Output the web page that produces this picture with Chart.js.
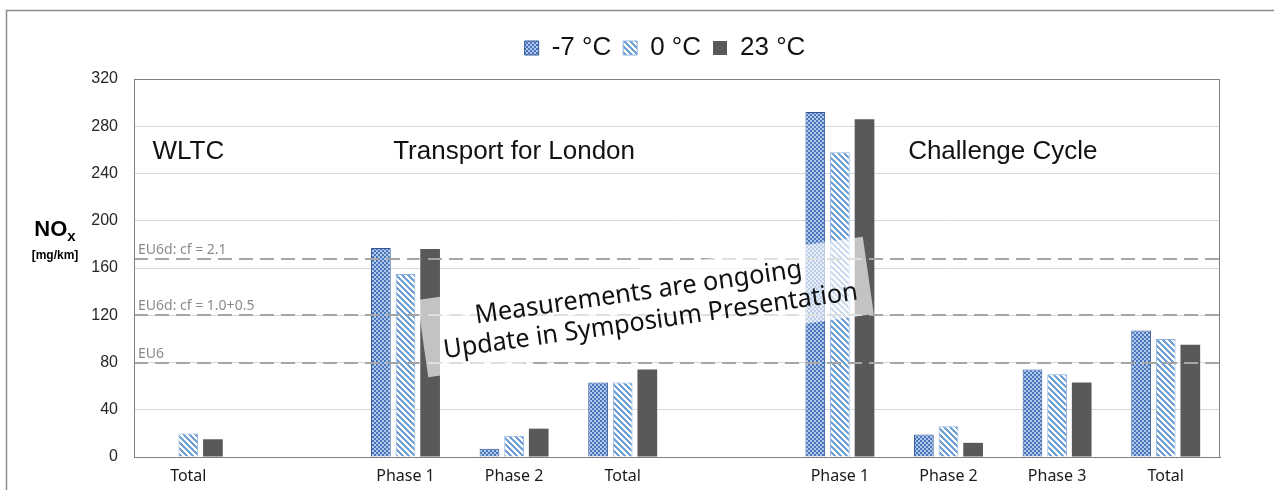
<!DOCTYPE html>
<html>
<head>
<meta charset="utf-8">
<script src="https://cdn.jsdelivr.net/npm/chart.js@4.4.1/dist/chart.umd.min.js"></script>
<style>
    html, body { margin: 0; padding: 0; background: #fff; }
    canvas { display: block; }
</style>
</head>
<body>
<canvas id="noxChart" width="1274" height="490"></canvas>
<script>
// chart values (mg/km)
const categories = ['Total', '', 'Phase 1', 'Phase 2', 'Total', '', 'Phase 1', 'Phase 2', 'Phase 3', 'Total'];
const minus7 = [null, null, 177, 7, 63, null, 292, 19, 74, 107];
const zeroC = [20, null, 155, 18, 63, null, 258, 26, 70, 100];
const plus23 = [15, null, 176, 24, 74, null, 286, 12, 63, 95];
const seriesLabels = ['-7 °C', '0 °C', '23 °C'];
const yTicks = [0, 40, 80, 120, 160, 200, 240, 280, 320];

// limit lines and their captions
const limitValues = [168, 120, 80];
const limitLabels = ['EU6d: cf = 2.1', 'EU6d: cf = 1.0+0.5', 'EU6'];

// section headings, centred on a category position
const sectionTitles = ['WLTC', 'Transport for London', 'Challenge Cycle'];
const sectionCenters = [0, 3, 7.5];
const sectionLevel = 258;

const noteLines = ['Measurements are ongoing', 'Update in Symposium Presentation'];

function dotPattern() {
    const c = document.createElement('canvas');
    c.width = 4; c.height = 4;
    const g = c.getContext('2d');
    g.fillStyle = '#b4c9ea';
    g.fillRect(0, 0, 4, 4);
    g.fillStyle = '#4674bd';
    for (let i = 0; i < 4; i++) {
        for (let j = 0; j < 4; j++) {
            if ((Math.floor(i / 2) + Math.floor(j / 2)) % 2 === 0) g.fillRect(i, j, 1, 1);
        }
    }
    return g.createPattern(c, 'repeat');
}

function stripePattern() {
    const c = document.createElement('canvas');
    c.width = 6; c.height = 6;
    const g = c.getContext('2d');
    g.fillStyle = '#ffffff';
    g.fillRect(0, 0, 6, 6);
    g.fillStyle = '#6f9fd3';
    for (let i = 0; i < 6; i++) {
        for (let j = 0; j < 6; j++) {
            if (((i - j) % 6 + 6) % 6 < 3) g.fillRect(i, j, 1, 1);
        }
    }
    return g.createPattern(c, 'repeat');
}

const extras = {
    id: 'extras',
    beforeDraw(chart) {
        const ctx = chart.ctx;
        ctx.save();
        ctx.strokeStyle = '#8c8c8c';
        ctx.lineWidth = 1.5;
        ctx.strokeRect(6.5, 10.5, 1400, 600);
        ctx.restore();
    },
    afterDatasetsDraw(chart) {
        const { ctx, chartArea: a, scales: { x, y } } = chart;
        ctx.save();

        // dashed limit lines
        ctx.strokeStyle = '#a6a6a6';
        ctx.lineWidth = 2;
        ctx.setLineDash([14, 7]);
        limitValues.forEach(v => {
            const py = Math.round(y.getPixelForValue(v));
            ctx.beginPath();
            ctx.moveTo(a.left, py);
            ctx.lineTo(a.right, py);
            ctx.stroke();
        });
        ctx.setLineDash([]);
        ctx.fillStyle = '#8a8a8a';
        ctx.font = '14px "Noto Sans"';
        ctx.textAlign = 'left';
        ctx.textBaseline = 'alphabetic';
        limitValues.forEach((v, i) => {
            ctx.fillText(limitLabels[i], a.left + 4, y.getPixelForValue(v) - 5);
        });

        // plot frame
        ctx.strokeStyle = '#7f7f7f';
        ctx.lineWidth = 1;
        ctx.strokeRect(a.left + 0.5, a.top + 0.5, a.right - a.left - 1, a.bottom - a.top);

        // section headings
        ctx.fillStyle = '#111';
        ctx.font = '26px "Liberation Sans"';
        ctx.textAlign = 'center';
        ctx.textBaseline = 'middle';
        sectionTitles.forEach((t, i) => {
            ctx.fillText(t, x.getPixelForValue(sectionCenters[i]), y.getPixelForValue(sectionLevel));
        });

        // "measurements ongoing" note
        ctx.translate(x.getPixelForValue(4.21), y.getPixelForValue(127));
        ctx.rotate(-8.1 * Math.PI / 180);
        ctx.fillStyle = 'rgba(255,255,255,0.64)';
        ctx.fillRect(-225, -39, 450, 78);
        ctx.fillStyle = '#111';
        ctx.font = '26px "Noto Sans"';
        ctx.fillText(noteLines[0], -5, -15, 330);
        ctx.fillText(noteLines[1], 3, 15, 418);
        ctx.restore();
    },
    afterDraw(chart) {
        const ctx = chart.ctx;
        ctx.save();
        ctx.fillStyle = '#000';
        ctx.textBaseline = 'alphabetic';
        ctx.textAlign = 'left';
        ctx.font = 'bold 22px "Liberation Sans"';
        const w1 = ctx.measureText('NO').width;
        ctx.font = 'bold 15px "Liberation Sans"';
        const w2 = ctx.measureText('x').width;
        const start = 55 - (w1 + w2) / 2;
        ctx.font = 'bold 22px "Liberation Sans"';
        ctx.fillText('NO', start, 236);
        ctx.font = 'bold 15px "Liberation Sans"';
        ctx.fillText('x', start + w1, 241);
        ctx.textAlign = 'center';
        ctx.font = 'bold 12px "Liberation Sans"';
        ctx.fillText('[mg/km]', 55, 259);
        ctx.restore();
    }
};

const ctx = document.getElementById('noxChart').getContext('2d');
new Chart(ctx, {
    type: 'bar',
    data: {
        labels: categories,
        datasets: [
            { label: seriesLabels[0], data: minus7, backgroundColor: dotPattern(), borderColor: '#2f5597', borderWidth: 1 },
            { label: seriesLabels[1], data: zeroC, backgroundColor: stripePattern(), borderColor: '#8db3e2', borderWidth: 1 },
            { label: seriesLabels[2], data: plus23, backgroundColor: '#595959', borderWidth: 0 }
        ]
    },
    options: {
        responsive: false,
        animation: false,
        categoryPercentage: 0.68,
        barPercentage: 0.8,
        layout: { padding: { left: 56, right: 0, top: 23, bottom: 0 } },
        scales: {
            x: {
                grid: { display: false, drawTicks: false },
                border: { display: true, color: '#7f7f7f' },
                ticks: { color: '#1a1a1a', font: { family: 'Noto Sans', size: 16 }, padding: 10, autoSkip: false, maxRotation: 0 },
                afterFit(scale) { scale.height = 33; }
            },
            y: {
                min: 0,
                max: 320,
                grid: { color: '#d9d9d9', drawTicks: false },
                border: { display: true, color: '#7f7f7f' },
                ticks: { color: '#262626', font: { family: 'Liberation Sans', size: 16 }, padding: 16 },
                afterBuildTicks(scale) { scale.ticks = yTicks.map(v => ({ value: v })); },
                afterFit(scale) { scale.width = 78; }
            },
            yRight: {
                position: 'right',
                grid: { display: false },
                border: { display: false },
                ticks: { display: false },
                afterFit(scale) { scale.width = 54; }
            }
        },
        plugins: {
            legend: {
                position: 'top',
                labels: {
                    color: '#111',
                    font: { family: 'Liberation Sans', size: 26 },
                    boxWidth: 14,
                    boxHeight: 14,
                    padding: 12
                }
            },
            title: {
                display: true,
                text: '',
                weight: 500,
                font: { size: 1, lineHeight: 1 },
                padding: { top: 0, bottom: 7 }
            },
            tooltip: { enabled: false }
        }
    },
    plugins: [extras]
});
</script>
</body>
</html>
